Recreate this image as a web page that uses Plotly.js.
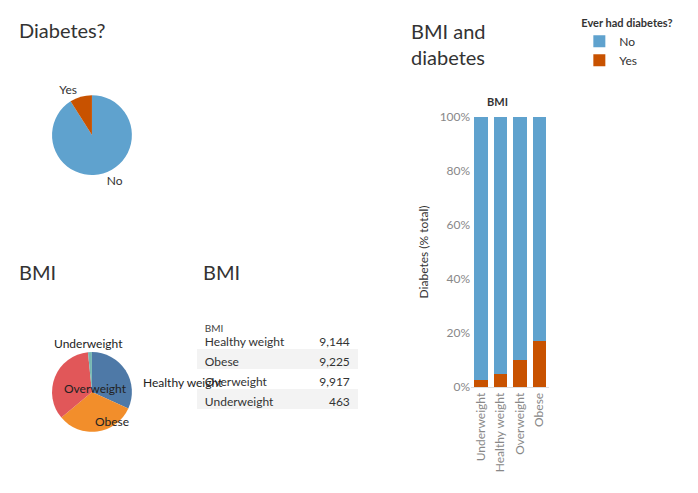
<!DOCTYPE html>
<html><head><meta charset="utf-8">
<script src="https://cdn.plot.ly/plotly-3.0.1.min.js"></script>
<style>body{margin:0}#chart{width:698px;height:493px}</style>
</head><body><div id="chart"></div>
<script>
const diabetesLabels = ['No', 'Yes']
const diabetesShare = [91, 9]
const bmiLabels = ['Healthy weight', 'Obese', 'Overweight', 'Underweight']
const bmiCounts = [9144, 9225, 9917, 463]
const bmiCountText = ['9,144', '9,225', '9,917', '463']
const barCategories = ['Underweight', 'Healthy weight', 'Overweight', 'Obese']
const yesPct = [2.5, 5, 10, 17]
const noPct = yesPct.map(v => 100 - v)
const pctTicks = [0, 20, 40, 60, 80, 100]

const FONT = 'Lato, "Open Sans", sans-serif'
const BLUE = '#5fa2ce', ORANGE = '#c85200'

// label anchor points for the BMI pie (paper coords), one per slice
const bmiLabelPos = [[141, 392], [93, 431], [62, 398], [52, 353]]

let data = [
  {
    type: 'pie', labels: diabetesLabels, values: diabetesShare, sort: false, direction: 'clockwise',
    marker: {colors: [BLUE, ORANGE]}, textinfo: 'label', textposition: 'outside',
    textfont: {size: 12, color: '#333'}, showlegend: false, hoverinfo: 'label+percent',
    domain: {x: [0.0745, 0.189], y: [0.645, 0.807]}
  },
  {
    type: 'pie', labels: bmiLabels, values: bmiCounts, sort: false, direction: 'clockwise',
    marker: {colors: ['#4e79a7', '#f28e2b', '#e15759', '#76b7b2']}, textinfo: 'none',
    showlegend: false, domain: {x: [0.0745, 0.189], y: [0.124, 0.286]}
  },
  {
    type: 'table', columnwidth: [105, 55],
    domain: {x: [0.282, 0.513], y: [0.162, 0.357]},
    header: {values: ['BMI', ''], height: 12, align: 'left', fill: {color: 'white'},
      line: {color: 'white'}, font: {family: FONT, size: 10, color: '#444'}},
    cells: {values: [bmiLabels, bmiCountText], height: 20, align: ['left', 'right'],
      fill: {color: [['white', '#f3f3f3', 'white', '#f3f3f3']]},
      line: {color: 'rgba(0,0,0,0)'}, font: {family: FONT, size: 12, color: '#333'}}
  },
  {
    type: 'bar', name: 'Yes', x: barCategories, y: yesPct, marker: {color: ORANGE}
  },
  {
    type: 'bar', name: 'No', x: barCategories, y: noPct, marker: {color: BLUE}
  }
]

let titleAnn = [
  {text: 'Diabetes?', x: 17 / 698, y: 1 - 30 / 493},
  {text: 'BMI', x: 17 / 698, y: 1 - 272 / 493},
  {text: 'BMI', x: 201 / 698, y: 1 - 272 / 493},
  {text: 'BMI and<br>diabetes', x: 409 / 698, y: 1 - 44 / 493}
].map(a => Object.assign(a, {xref: 'paper', yref: 'paper', xanchor: 'left', yanchor: 'middle',
  align: 'left', showarrow: false, font: {size: 20, color: '#333'}}))

let pieAnn = bmiLabels.map((l, i) => ({text: l, x: bmiLabelPos[i][0] / 698, y: 1 - bmiLabelPos[i][1] / 493,
  xref: 'paper', yref: 'paper', showarrow: false, font: {size: 12, color: '#222'}}))

let layout = {
  width: 698, height: 493,
  margin: {l: 0, r: 0, t: 0, b: 0},
  font: {family: FONT, color: '#333'},
  paper_bgcolor: 'white', plot_bgcolor: 'white',
  barmode: 'stack', bargap: 0.3,
  legend: {x: 0.83, y: 0.975, xanchor: 'left', yanchor: 'top', traceorder: 'reversed',
    title: {text: '<b>Ever had diabetes?</b>', side: 'top', font: {size: 11}},
    font: {size: 12}},
  xaxis: {domain: [0.675, 0.787], tickangle: -90, tickfont: {size: 12, color: '#888'},
    showgrid: false, zeroline: false, showline: true, linecolor: '#ddd'},
  yaxis: {domain: [0.215, 0.763], range: [0, 100], tickmode: 'array', tickvals: pctTicks,
    ticktext: pctTicks.map(v => v + '%'), tickfont: {size: 12, color: '#888'},
    showgrid: false, zeroline: false,
    title: {text: 'Diabetes (% total)', font: {size: 12, color: '#333'}, standoff: 8}},
  annotations: titleAnn.concat(pieAnn, [
    {text: '<b>BMI</b>', x: 0.731, y: 1 - 93 / 493, xref: 'paper', yref: 'paper',
      showarrow: false, font: {size: 11, color: '#333'}}
  ])
}

Plotly.newPlot('chart', data, layout, {displayModeBar: false})
</script></body></html>
